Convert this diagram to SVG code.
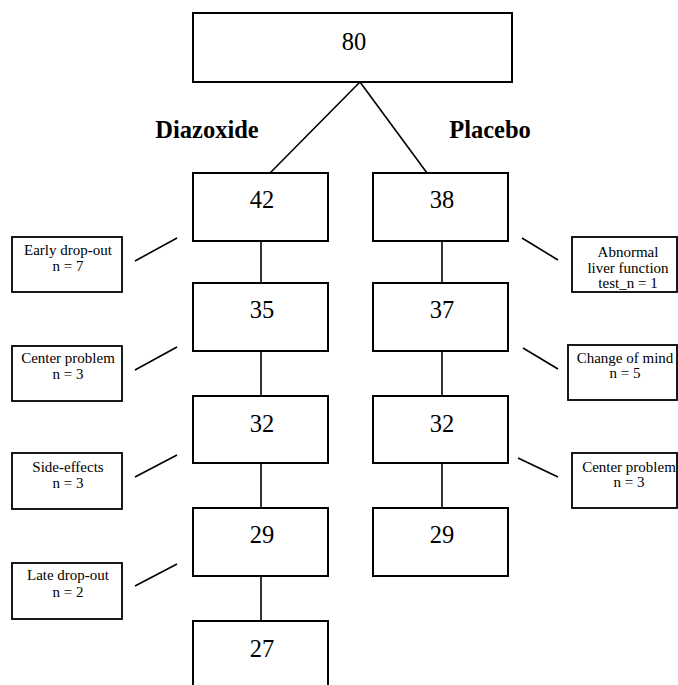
<svg xmlns="http://www.w3.org/2000/svg" width="678" height="685" viewBox="0 0 678 685">
<style>
.box{fill:#fff;stroke:#000;stroke-width:2}
.sbox{fill:#fff;stroke:#000;stroke-width:1.8}
.num{font-family:"Liberation Serif","Times New Roman",serif;font-size:24.5px;text-anchor:middle;fill:#000}
.lab{font-family:"Liberation Serif","Times New Roman",serif;font-size:15px;text-anchor:middle;fill:#000}
.arm{font-family:"Liberation Serif","Times New Roman",serif;font-size:24.5px;font-weight:bold;text-anchor:middle;fill:#000}
.ln{stroke:#000;stroke-width:1.6;fill:none}
</style>
<rect width="678" height="685" fill="#fff"/>
<g id="connectors">
<line class="ln" x1="360" y1="82" x2="270" y2="173"/>
<line class="ln" x1="360" y1="82" x2="427" y2="173"/>
<line class="ln" x1="261" y1="237" x2="261" y2="283"/>
<line class="ln" x1="261" y1="351" x2="261" y2="396"/>
<line class="ln" x1="261" y1="463" x2="261" y2="508"/>
<line class="ln" x1="261" y1="576" x2="261" y2="621"/>
<line class="ln" x1="442" y1="237" x2="442" y2="283"/>
<line class="ln" x1="442" y1="351" x2="442" y2="396"/>
<line class="ln" x1="442" y1="463" x2="442" y2="508"/>
<line class="ln" x1="135" y1="261" x2="177" y2="238"/>
<line class="ln" x1="135" y1="370" x2="177" y2="347"/>
<line class="ln" x1="135" y1="477" x2="177" y2="455"/>
<line class="ln" x1="135" y1="586" x2="177" y2="564"/>
<line class="ln" x1="522" y1="238" x2="558" y2="260"/>
<line class="ln" x1="523" y1="348" x2="558" y2="369"/>
<line class="ln" x1="518" y1="458" x2="558" y2="477"/>
</g>
<g id="n80"><rect class="box" x="193" y="13" width="319" height="69"/><text class="num" x="354" y="50">80</text></g>
<g id="diazoxide"><text class="arm" x="207" y="138">Diazoxide</text></g>
<g id="placebo"><text class="arm" x="490" y="138">Placebo</text></g>
<g id="d42"><rect class="box" x="193" y="173" width="135" height="68"/><text class="num" x="262" y="208">42</text></g>
<g id="d35"><rect class="box" x="193" y="283" width="135" height="68"/><text class="num" x="262" y="318">35</text></g>
<g id="d32"><rect class="box" x="193" y="396" width="135" height="67"/><text class="num" x="262" y="432">32</text></g>
<g id="d29"><rect class="box" x="193" y="508" width="135" height="68"/><text class="num" x="262" y="543">29</text></g>
<g id="d27"><rect class="box" x="193" y="621" width="135" height="80"/><text class="num" x="262" y="657">27</text></g>
<g id="p38"><rect class="box" x="373" y="173" width="135" height="68"/><text class="num" x="442" y="208">38</text></g>
<g id="p37"><rect class="box" x="373" y="283" width="135" height="68"/><text class="num" x="442" y="318">37</text></g>
<g id="p32"><rect class="box" x="373" y="396" width="135" height="67"/><text class="num" x="442" y="432">32</text></g>
<g id="p29"><rect class="box" x="373" y="508" width="135" height="68"/><text class="num" x="442" y="543">29</text></g>
<g id="early"><rect class="sbox" x="12" y="237" width="110" height="55"/><text class="lab" x="68" y="255">Early drop-out</text><text class="lab" x="68" y="271">n = 7</text></g>
<g id="centerL"><rect class="sbox" x="12" y="346" width="110" height="55"/><text class="lab" x="68" y="363">Center problem</text><text class="lab" x="68" y="379">n = 3</text></g>
<g id="side"><rect class="sbox" x="12" y="453" width="110" height="56"/><text class="lab" x="68" y="472">Side-effects</text><text class="lab" x="68" y="488">n = 3</text></g>
<g id="late"><rect class="sbox" x="12" y="563" width="110" height="56"/><text class="lab" x="68" y="580">Late drop-out</text><text class="lab" x="68" y="597">n = 2</text></g>
<g id="abnormal"><rect class="sbox" x="572" y="237" width="105" height="55"/><text class="lab" x="628" y="257">Abnormal</text><text class="lab" x="628" y="273">liver function</text><text class="lab" x="628" y="288">test_n = 1</text></g>
<g id="change"><rect class="sbox" x="568" y="345" width="109" height="55"/><text class="lab" x="625" y="363">Change of mind</text><text class="lab" x="625" y="378">n = 5</text></g>
<g id="centerR"><rect class="sbox" x="572" y="453" width="105" height="55"/><text class="lab" x="629" y="472">Center problem</text><text class="lab" x="629" y="487">n = 3</text></g>
</svg>
